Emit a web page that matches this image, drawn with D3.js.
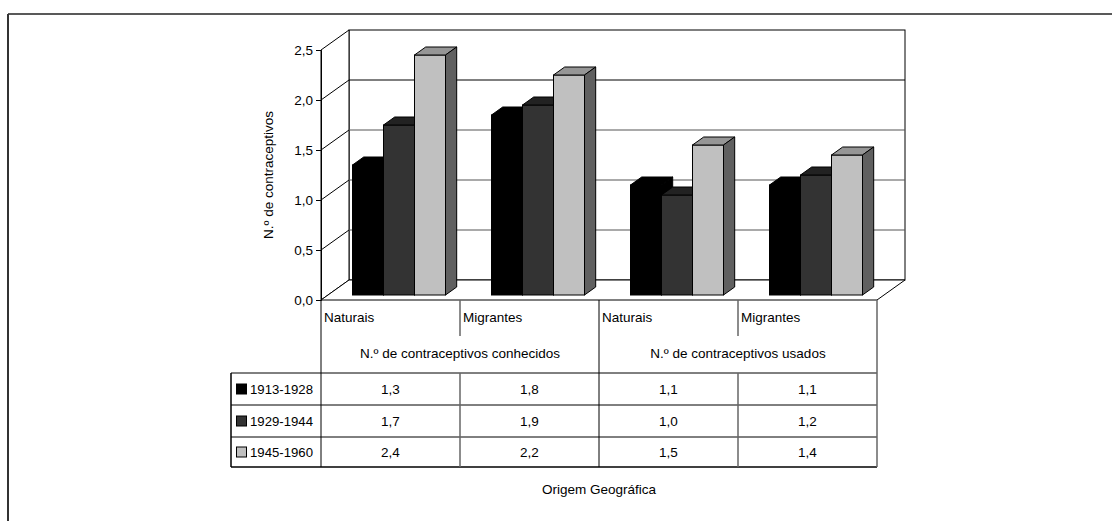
<!DOCTYPE html>
<html>
<head>
<meta charset="utf-8">
<script src="https://cdn.jsdelivr.net/npm/d3@7/dist/d3.min.js"></script>
<style>
  html, body { margin: 0; padding: 0; background: #fff; }
  svg text { font-family: "Liberation Sans Narrow", "Arial Narrow", "Liberation Sans", Arial, sans-serif; fill: #000; }
</style>
</head>
<body>
<svg id="chart" width="1112" height="521"></svg>
<script>
// Categories (geographic origin) and their group headings
const categories = ["Naturais", "Migrantes", "Naturais", "Migrantes"];
const groups = ["N.º de contraceptivos conhecidos", "N.º de contraceptivos usados"];

// Birth cohorts and their values per category
const series = ["1913-1928", "1929-1944", "1945-1960"];
const values1913 = [1.3, 1.8, 1.1, 1.1];
const values1929 = [1.7, 1.9, 1.0, 1.2];
const values1945 = [2.4, 2.2, 1.5, 1.4];
const seriesValues = [values1913, values1929, values1945];

const yTicks = [0, 0.5, 1.0, 1.5, 2.0, 2.5];

const yTitle = "N.º de contraceptivos";
const xTitle = "Origem Geográfica";

// Face colours per cohort: front, top, side
const frontColors = ["#000000", "#333333", "#c0c0c0"];
const topColors = ["#000000", "#222222", "#969696"];
const sideColors = ["#000000", "#1c1c1c", "#606060"];

const fs = 13.5;

const svg = d3.select("#chart");
const fmt = v => d3.format(".1f")(v).replace(".", ",");

// Outer frame (top and left edges)
svg.append("line").attr("x1", 8).attr("y1", 14).attr("x2", 1112).attr("y2", 14)
  .attr("stroke", "#222").attr("stroke-width", 1.5);
svg.append("line").attr("x1", 8).attr("y1", 14).attr("x2", 8).attr("y2", 521)
  .attr("stroke", "#333").attr("stroke-width", 2);

// Plot geometry
const x0 = 321, x1 = 877;
const depthX = 28, depthY = -20;
const y = d3.scaleLinear().domain([0, 2.5]).range([300, 50]);
const x = d3.scaleBand().domain(d3.range(categories.length)).range([x0, x1]).paddingInner(0).paddingOuter(0);
const xs = d3.scaleBand().domain(d3.range(series.length)).range([24.5, 117.5]).padding(0);

// Bars sit inside the depth between these fractions
const fFront = 0.25, fBack = 0.65;

const g = svg.append("g");

// Back wall
g.append("rect").attr("x", x0 + depthX).attr("y", y(2.5) + depthY)
  .attr("width", x1 - x0).attr("height", y(0) - y(2.5))
  .attr("fill", "#fff").attr("stroke", "#000").attr("stroke-width", 1);
// Left wall
g.append("polygon")
  .attr("points", [[x0, y(0)], [x0 + depthX, y(0) + depthY], [x0 + depthX, y(2.5) + depthY], [x0, y(2.5)]].map(p => p.join(",")).join(" "))
  .attr("fill", "#fff").attr("stroke", "#000").attr("stroke-width", 1);
// Floor
g.append("polygon")
  .attr("points", [[x0, y(0)], [x1, y(0)], [x1 + depthX, y(0) + depthY], [x0 + depthX, y(0) + depthY]].map(p => p.join(",")).join(" "))
  .attr("fill", "#fff").attr("stroke", "#000").attr("stroke-width", 1);

// Gridlines on back and left walls
yTicks.filter(t => t > 0 && t < 2.5).forEach(t => {
  const yy = y(t);
  g.append("line").attr("x1", x0 + depthX).attr("x2", x1 + depthX)
    .attr("y1", yy + depthY).attr("y2", yy + depthY)
    .attr("stroke", t === 2.0 ? "#000" : "#555").attr("stroke-width", 1);
  g.append("line").attr("x1", x0).attr("x2", x0 + depthX)
    .attr("y1", yy).attr("y2", yy + depthY)
    .attr("stroke", "#000").attr("stroke-width", 1);
});

// Y axis with ticks
const yAxis = d3.axisLeft(y).tickValues(yTicks).tickSize(5).tickPadding(3).tickFormat(fmt);
const axG = svg.append("g").attr("transform", `translate(${x0},0)`).call(yAxis);
axG.select(".domain").attr("stroke", "#000");
axG.selectAll(".tick line").attr("stroke", "#000");
axG.selectAll(".tick text").attr("font-size", fs).attr("font-family", null);

svg.append("text")
  .attr("transform", "translate(273,175) rotate(-90)")
  .attr("text-anchor", "middle").attr("font-size", fs)
  .text(yTitle);

// 3D bars
const fdx = depthX * fFront, fdy = depthY * fFront;
const bdx = depthX * fBack, bdy = depthY * fBack;
const ddx = bdx - fdx, ddy = bdy - fdy;
const pts = arr => arr.map(p => p.join(",")).join(" ");

categories.forEach((c, ci) => {
  series.forEach((s, si) => {
    const v = seriesValues[si][ci];
    const bx = x(ci) + xs(si) + fdx;
    const bw = xs.bandwidth();
    const yb = y(0) + fdy;
    const yt = y(v) + fdy;
    const bar = g.append("g");
    bar.append("rect").attr("x", bx).attr("y", yt).attr("width", bw).attr("height", yb - yt)
      .attr("fill", frontColors[si]).attr("stroke", "#000").attr("stroke-width", 1);
    bar.append("polygon")
      .attr("points", pts([[bx, yt], [bx + bw, yt], [bx + bw + ddx, yt + ddy], [bx + ddx, yt + ddy]]))
      .attr("fill", topColors[si]).attr("stroke", "#000").attr("stroke-width", 1);
    bar.append("polygon")
      .attr("points", pts([[bx + bw, yt], [bx + bw + ddx, yt + ddy], [bx + bw + ddx, yb + ddy], [bx + bw, yb]]))
      .attr("fill", sideColors[si]).attr("stroke", "#000").attr("stroke-width", 1);
  });
});

// Data table
const tTop = 300, catRowB = 336, grpRowB = 373;
const rowEdges = [373, 405, 437, 467];
const legL = 231;
const t = svg.append("g");

const line = (xa, ya, xb, yb, col, w) =>
  t.append("line").attr("x1", xa).attr("y1", ya).attr("x2", xb).attr("y2", yb)
    .attr("stroke", col).attr("stroke-width", w);

// Horizontal rules
line(legL, grpRowB, x1, grpRowB, "#000", 1);
line(legL, rowEdges[1], x1, rowEdges[1], "#000", 1);
line(legL, rowEdges[2], x1, rowEdges[2], "#000", 1);
line(legL, rowEdges[3], x1, rowEdges[3], "#000", 1.5);
// Vertical rules
line(x0, tTop, x0, rowEdges[3], "#000", 1);
line(x1, tTop, x1, rowEdges[3], "#666", 1.5);
line(legL, grpRowB, legL, rowEdges[3], "#000", 1.5);
line(x(2), tTop, x(2), rowEdges[3], "#000", 1);
[1, 3].forEach(ci => {
  line(x(ci), tTop, x(ci), catRowB, "#666", 1.5);
  line(x(ci), grpRowB, x(ci), rowEdges[3], "#666", 1.5);
});

// Category labels
categories.forEach((c, ci) => {
  t.append("text").attr("x", x(ci) + 3).attr("y", 322).attr("font-size", fs).text(c);
});
// Group labels
groups.forEach((gr, gi) => {
  const cx = (x(gi * 2) + x(gi * 2 + 1) + x.bandwidth()) / 2;
  t.append("text").attr("x", cx).attr("y", 358).attr("text-anchor", "middle").attr("font-size", fs).text(gr);
});
// Legend and values
series.forEach((s, si) => {
  const yMid = (rowEdges[si] + rowEdges[si + 1]) / 2;
  t.append("rect").attr("x", 236.5).attr("y", yMid - 5).attr("width", 10).attr("height", 10)
    .attr("fill", frontColors[si]).attr("stroke", "#000").attr("stroke-width", 1);
  t.append("text").attr("x", 250).attr("y", yMid + 5).attr("font-size", fs)
    .attr("textLength", 63).attr("lengthAdjust", "spacingAndGlyphs").text(s);
  categories.forEach((c, ci) => {
    t.append("text").attr("x", x(ci) + x.bandwidth() / 2).attr("y", yMid + 5)
      .attr("text-anchor", "middle").attr("font-size", fs).text(fmt(seriesValues[si][ci]));
  });
});

// X title
svg.append("text").attr("x", (x0 + x1) / 2).attr("y", 494).attr("text-anchor", "middle")
  .attr("font-size", fs).text(xTitle);
</script>
</body>
</html>
